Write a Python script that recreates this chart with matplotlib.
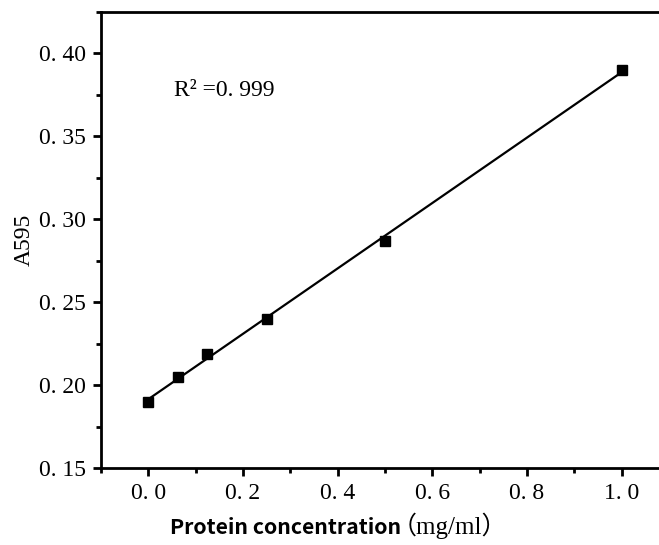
import numpy as np
import matplotlib.pyplot as plt
from matplotlib.ticker import MultipleLocator, FuncFormatter

# Data
conc = [0.0, 0.0625, 0.125, 0.25, 0.5, 1.0]
absorb = [0.190, 0.205, 0.219, 0.240, 0.287, 0.390]
r2_text = "R\u00b2 =0. 999"

# Linear fit through the points
slope, intercept = np.polyfit(conc, absorb, 1)
fit_x = np.array([min(conc), max(conc)])
fit_y = slope * fit_x + intercept

fig = plt.figure(figsize=(6.59, 5.45), dpi=100)
ax = fig.add_axes([101 / 659, 77 / 545, 568 / 659, 456 / 545])

ax.plot(fit_x, fit_y, color='black', linewidth=1.6, zorder=2)
ax.plot(conc, absorb, linestyle='none', marker='s', markersize=7.5,
        color='black', zorder=3)

ax.set_xlim(-0.1, 1.1)
ax.set_ylim(0.15, 0.425)

ax.xaxis.set_major_locator(MultipleLocator(0.2))
ax.xaxis.set_minor_locator(MultipleLocator(0.1))
ax.yaxis.set_major_locator(MultipleLocator(0.05))
ax.yaxis.set_minor_locator(MultipleLocator(0.025))

ax.xaxis.set_major_formatter(FuncFormatter(lambda v, p: f"{v:.1f}".replace('.', '. ')))
ax.yaxis.set_major_formatter(FuncFormatter(lambda v, p: f"{v:.2f}".replace('.', '. ')))

for spine in ax.spines.values():
    spine.set_linewidth(2)
ax.tick_params(which='major', direction='out', length=6, width=2,
               labelsize=17, pad=5)
ax.tick_params(which='minor', direction='out', length=3.5, width=2)
for lab in ax.get_xticklabels() + ax.get_yticklabels():
    lab.set_family('Liberation Serif')

ax.text(0.055, 0.3777, r2_text, fontsize=17, family='Liberation Serif',
        ha='left', va='center')

ax.set_ylabel("A595", fontsize=17, family='Liberation Serif', labelpad=3)

fig.text(170 / 659, 1 - 528 / 545, "Protein concentration", fontsize=15.3,
         fontweight='bold', family='Noto Sans CJK SC', ha='left',
         va='center')
fig.text(392 / 659, 1 - 526 / 545, "\uff08mg/ml\uff09", fontsize=18,
         family=['Liberation Serif', 'Noto Sans CJK SC'],
         ha='left', va='center')

fig.savefig("out.png", dpi=100)
